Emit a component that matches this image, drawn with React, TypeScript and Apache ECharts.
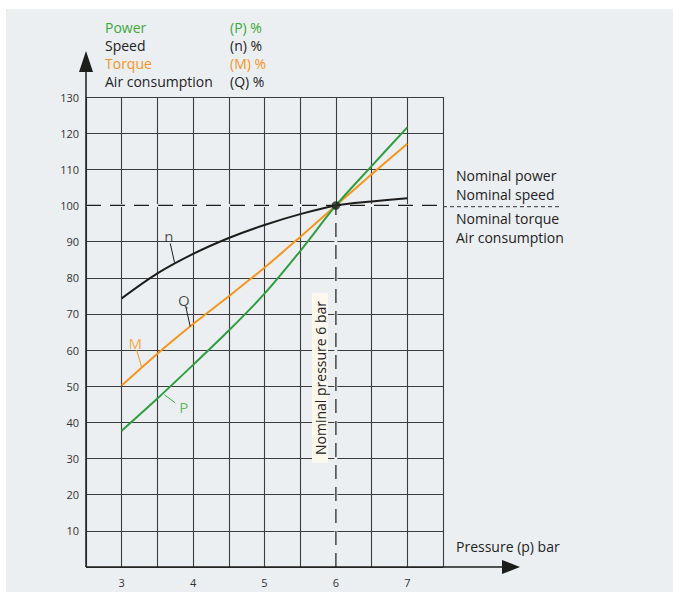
import React, { useEffect, useRef } from 'react';
import * as echarts from 'echarts';

// ---- data ----
const pressureBar = [3, 3.5, 4, 4.5, 5, 5.5, 6, 6.5, 7];
const powerP = [37.7, 46.6, 55.9, 65.4, 75.6, 87.4, 100, 110.9, 121.6];
const speedN = [74.3, 81.2, 86.6, 91.0, 94.6, 97.6, 100, 101.1, 102.0];
const torqueM = [50.2, 59.0, 67.2, 74.9, 82.8, 91.3, 100, 108.6, 117.1];
// air consumption (Q) follows the same curve as torque (M)
const xTickLabels = [3, 4, 5, 6, 7];
const nominalPressure = 6;
const nominalPercent = 100;

const legendNames = ['Power', 'Speed', 'Torque', 'Air consumption'];
const legendUnits = ['(P) %', '(n) %', '(M) %', '(Q) %'];
const rightLabels = ['Nominal power', 'Nominal speed', 'Nominal torque', 'Air consumption'];

// curve name tags: label position and leader line (data coordinates)
const tagNames = ['n', 'Q', 'M', 'P'];
const tagAt = [[3.66, 91.6], [3.87, 73.9], [3.19, 62.0], [3.87, 44.2]];
const tagFrom = [[3.68, 89.5], [3.9, 71.8], [3.21, 60.0], [3.75, 45.4]];
const tagTo = [[3.74, 84.2], [3.96, 66.5], [3.28, 55.2], [3.6, 47.6]];

const GREEN = '#2e9e3e';
const GREEN_TXT = '#3aaa35';
const ORANGE = '#f7941d';
const BLACK = '#1d1d1b';
const PANEL = '#eceff2';
const GRIDC = '#3c3c3c';
const FONT = '"Open Sans", "Noto Sans", sans-serif';

const tagColors = [BLACK, BLACK, ORANGE, GREEN_TXT];
const legendColors = [GREEN_TXT, '#222', ORANGE, '#222'];

export default function App() {
  const ref = useRef<HTMLDivElement>(null);
  useEffect(() => {
    if (!ref.current) return;
    const chart = echarts.init(ref.current, undefined, { renderer: 'svg' });
    const zip = (ys: number[]) => pressureBar.map((x, i) => [x, ys[i]]);

    const series: any[] = [
      { type: 'line', data: [[2.5, nominalPercent], [7.5, nominalPercent]], symbol: 'none', silent: true, z: 1,
        lineStyle: { color: PANEL, width: 3 } },
      { type: 'line', data: [[nominalPressure, 0], [nominalPressure, nominalPercent]], symbol: 'none', silent: true, z: 1,
        lineStyle: { color: PANEL, width: 3 } },
      { type: 'line', data: [[2.5, nominalPercent], [7.5, nominalPercent]], symbol: 'none', silent: true, z: 2,
        lineStyle: { color: BLACK, width: 1.2, type: [15, 9] } },
      { type: 'line', data: [[nominalPressure, 0], [nominalPressure, nominalPercent]], symbol: 'none', silent: true, z: 2,
        lineStyle: { color: BLACK, width: 1.2, type: [14, 8] } },
      { type: 'line', data: zip(speedN), smooth: 0.3, symbol: 'none', z: 3, lineStyle: { color: BLACK, width: 2 } },
      { type: 'line', data: zip(torqueM), smooth: 0.3, symbol: 'none', z: 3, lineStyle: { color: ORANGE, width: 2 } },
      { type: 'line', data: zip(powerP), smooth: 0.3, symbol: 'none', z: 4, lineStyle: { color: GREEN, width: 2 } },
      { type: 'scatter', data: [[nominalPressure, nominalPercent]], symbolSize: 8.5, z: 5, itemStyle: { color: BLACK } },
    ];
    tagNames.forEach((name, i) => {
      series.push({ type: 'line', data: [tagFrom[i], tagTo[i]], symbol: 'none', z: 4,
        lineStyle: { color: tagColors[i], width: 1 } });
      series.push({ type: 'scatter', data: [tagAt[i]], symbolSize: 1, z: 5, itemStyle: { color: 'rgba(0,0,0,0)' },
        label: { show: true, position: 'inside', formatter: name, color: tagColors[i], fontSize: 15, fontFamily: FONT } });
    });

    const graphic: any[] = [
      { type: 'line', z: 50, shape: { x1: 86, y1: 567, x2: 86, y2: 70 }, style: { stroke: BLACK, lineWidth: 1.5 } },
      { type: 'polygon', z: 50, shape: { points: [[86, 51], [79, 72], [93, 72]] }, style: { fill: BLACK } },
      { type: 'line', z: 50, shape: { x1: 86, y1: 567, x2: 505, y2: 567 }, style: { stroke: BLACK, lineWidth: 1.5 } },
      { type: 'polygon', z: 50, shape: { points: [[520, 567], [502, 560], [502, 574]] }, style: { fill: BLACK } },
      { type: 'line', z: 50, shape: { x1: 443, y1: 206.7, x2: 562, y2: 206.7 }, style: { stroke: '#333', lineWidth: 1, lineDash: [4, 3] } },
      { type: 'text', z: 60, x: 320, y: 378, rotation: Math.PI / 2,
        style: { text: 'Nominal pressure 6 bar', font: `14px ${FONT}`, fill: '#222', align: 'center', verticalAlign: 'middle',
          backgroundColor: '#fcf8ee', padding: [1, 8] } },
      { type: 'text', z: 60, x: 456, y: 546, style: { text: 'Pressure (p) bar', font: `14px ${FONT}`, fill: '#222', verticalAlign: 'middle' } },
    ];
    legendNames.forEach((t, i) => {
      graphic.push({ type: 'text', z: 60, x: 105, y: 27 + i * 18, style: { text: t, font: `14px ${FONT}`, fill: legendColors[i], verticalAlign: 'middle' } });
      graphic.push({ type: 'text', z: 60, x: 230, y: 27 + i * 18, style: { text: legendUnits[i], font: `14px ${FONT}`, fill: legendColors[i], verticalAlign: 'middle' } });
    });
    const rightY = [175, 194.5, 218, 237];
    rightLabels.forEach((t, i) => {
      graphic.push({ type: 'text', z: 60, x: 456, y: rightY[i], style: { text: t, font: `14px ${FONT}`, fill: '#222', verticalAlign: 'middle' } });
    });

    chart.setOption({
      animation: false,
      textStyle: { fontFamily: FONT },
      grid: { left: 86, top: 97, width: 357, height: 470, show: false },
      xAxis: {
        type: 'value', min: 2.5, max: 7.5, interval: 0.5,
        axisLine: { show: false }, axisTick: { show: false },
        splitLine: { show: true, lineStyle: { color: GRIDC, width: 1.1 } },
        axisLabel: { fontSize: 11, color: '#333', margin: 10,
          formatter: (v: number) => (xTickLabels.includes(v) ? String(v) : '') },
      },
      yAxis: {
        type: 'value', min: 0, max: 130, interval: 10,
        axisLine: { show: false }, axisTick: { show: false },
        splitLine: { show: true, lineStyle: { color: GRIDC, width: 1.1 } },
        axisLabel: { fontSize: 11, color: '#333', margin: 7,
          formatter: (v: number) => (v === 0 ? '' : String(v)) },
      },
      series,
      graphic,
    });
    return () => chart.dispose();
  }, []);

  return (
    <div style={{ position: 'fixed', left: 0, top: 0, width: 673, height: 592, background: '#fff' }}>
      <div style={{ position: 'absolute', left: 6, top: 9, width: 667, height: 583, background: PANEL }} />
      <div ref={ref} style={{ position: 'absolute', left: 0, top: 0, width: 673, height: 592 }} />
    </div>
  );
}
